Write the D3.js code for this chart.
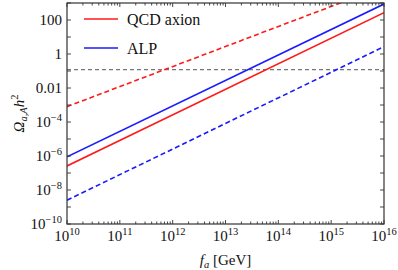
<!DOCTYPE html>
<html><head><meta charset="utf-8">
<script src="https://cdn.jsdelivr.net/npm/d3@7"></script>
</head><body style="margin:0">
<script>
// data (endpoints of straight lines in log-log space)
const fa = [1e10, 1e16];
const qcdSolid = [2.6e-7, 270];
const qcdDashed = [8e-4, 9.5e3];
const alpSolid = [9e-7, 870];
const alpDashed = [2.5e-9, 2.7];
const omegaDM = 0.12;
const xTicks = [1e10,1e11,1e12,1e13,1e14,1e15,1e16];
const yTicks = [1e-10,1e-8,1e-6,1e-4,1e-2,1,1e2];
const yTickLabels = ["10^-10","10^-8","10^-6","10^-4","0.01","1","100"];
const legendLabels = ["QCD axion","ALP"];

const FONT='"Times New Roman", "Liberation Serif", Times, serif';
const W=398,H=270, L=67,R=384,T=3,B=224;
const svg=d3.select("body").append("svg").attr("width",W).attr("height",H)
  .style("font-family",FONT);
const xs=d3.scaleLog().domain([1e10,1e16]).range([L,R]);
const ys=d3.scaleLog().domain([1e-10,1e3]).range([B,T]);

svg.append("defs").append("clipPath").attr("id","plotclip").append("rect")
  .attr("x",L).attr("y",T).attr("width",R-L).attr("height",B-T);
const g=svg.append("g").attr("clip-path","url(#plotclip)");
const line=d3.line().x(d=>xs(d[0])).y(d=>ys(d[1]));
const series=[
 {v:qcdSolid,c:"#ff1a1a",dash:null},
 {v:alpSolid,c:"#1a1aff",dash:null},
 {v:qcdDashed,c:"#ff1a1a",dash:"5,3"},
 {v:alpDashed,c:"#1a1aff",dash:"5,3"}];
g.append("path").attr("d",line([[1e10,omegaDM],[1e16,omegaDM]]))
  .attr("stroke","#777").attr("stroke-width",1.1).attr("stroke-dasharray","4,3").attr("fill","none");
series.forEach(s=>{
  g.append("path").attr("d",line(fa.map((f,i)=>[f,s.v[i]])))
   .attr("stroke",s.c).attr("stroke-width",1.6).attr("fill","none")
   .attr("stroke-dasharray",s.dash);
});

// frame
const fc="#333";
svg.append("rect").attr("x",L).attr("y",T).attr("width",R-L).attr("height",B-T)
  .attr("fill","none").attr("stroke",fc).attr("stroke-width",1.2);
const xMinor=[];
for(let e=10;e<16;e++) for(let k=2;k<=9;k++) xMinor.push(k*Math.pow(10,e));
const ax=svg.append("g").attr("stroke",fc).attr("stroke-width",0.9);
xTicks.forEach(t=>{const px=xs(t);
  ax.append("line").attr("x1",px).attr("x2",px).attr("y1",B).attr("y2",B-4);
  ax.append("line").attr("x1",px).attr("x2",px).attr("y1",T).attr("y2",T+4);});
xMinor.forEach(t=>{const px=xs(t);
  ax.append("line").attr("x1",px).attr("x2",px).attr("y1",B).attr("y2",B-2.5);
  ax.append("line").attr("x1",px).attr("x2",px).attr("y1",T).attr("y2",T+2.5);});
for(let e=-10;e<=3;e++){const py=ys(Math.pow(10,e));
  ax.append("line").attr("x1",L).attr("x2",L+4).attr("y1",py).attr("y2",py);
  ax.append("line").attr("x1",R).attr("x2",R-4).attr("y1",py).attr("y2",py);}

function txt(){return svg.append("text").style("font-family",FONT).attr("fill","#111");}
// x labels
xTicks.forEach(t=>{
  const e=Math.round(Math.log10(t));
  const tx=txt().attr("x",xs(t)).attr("y",241).attr("text-anchor","middle").style("font-size","15px");
  tx.append("tspan").text("10");
  tx.append("tspan").style("font-size","10.5px").attr("dy",-6).text(String(e));
});
// y labels
yTicks.forEach((t,i)=>{
  const lab=yTickLabels[i];
  const tx=txt().attr("x",62).attr("y",ys(t)+5).attr("text-anchor","end").style("font-size","15px");
  if(lab.startsWith("10^")){
    tx.append("tspan").text("10");
    tx.append("tspan").style("font-size","10.5px").attr("dy",-6).text(lab.slice(3).replace("-","\u2212"));
  } else tx.text(lab);
});
// axis titles
const xt=txt().attr("x",(L+R)/2).attr("y",265).attr("text-anchor","middle").style("font-size","15px");
xt.append("tspan").style("font-style","italic").text("f");
xt.append("tspan").style("font-style","italic").style("font-size","10.5px").attr("dy",3).text("a");
xt.append("tspan").attr("dy",-3).text(" [GeV]");
const yt=txt().attr("transform",`translate(24,${(T+B)/2}) rotate(-90)`).attr("text-anchor","middle").style("font-size","15px");
yt.append("tspan").style("font-style","italic").text("\u03A9");
yt.append("tspan").style("font-style","italic").style("font-size","10.5px").attr("dy",3).text("a,A");
yt.append("tspan").style("font-style","italic").attr("dy",-3).text("h");
yt.append("tspan").style("font-size","10.5px").attr("dy",-6).text("2");

// legend
const legC=["#ff1a1a","#1a1aff"], legY=[19,48];
legendLabels.forEach((l,i)=>{
  svg.append("line").attr("x1",84).attr("x2",118).attr("y1",legY[i]).attr("y2",legY[i])
    .attr("stroke",legC[i]).attr("stroke-width",1.6);
  txt().attr("x",127).attr("y",legY[i]+5.5).style("font-size","16px").text(l);
});
</script>
</body></html>
